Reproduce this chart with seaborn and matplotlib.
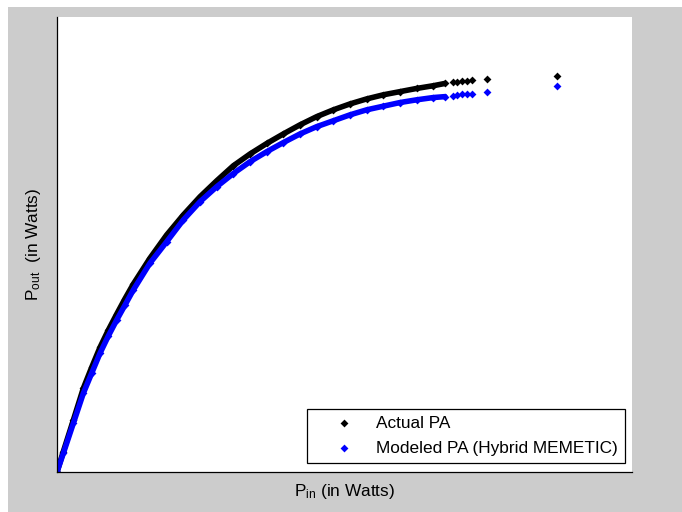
import matplotlib
matplotlib.use("Agg")
import matplotlib.pyplot as plt
import seaborn as sns
import pandas as pd
from matplotlib.patches import Rectangle

# ---- data (normalized units) ----
pin_dense = [0.0, 0.011, 0.0284, 0.0458, 0.0603, 0.0748, 0.0893, 0.1038, 0.1183,
             0.1327, 0.1617, 0.1907,
             0.2197, 0.2487, 0.2777, 0.3066, 0.3357, 0.3647, 0.3936, 0.4226,
             0.4516, 0.4806, 0.5096, 0.5386, 0.5675, 0.5965, 0.6255, 0.6545, 0.6748]
actual_dense = [0.0, 0.045, 0.114, 0.184, 0.230, 0.274, 0.312, 0.347, 0.381,
                0.413, 0.470, 0.521,
                0.565, 0.605, 0.640, 0.673, 0.699, 0.722, 0.743, 0.763,
                0.781, 0.796, 0.809, 0.820, 0.829, 0.836, 0.843, 0.849, 0.854]
model_dense = [0.0, 0.041, 0.107, 0.173, 0.217, 0.261, 0.299, 0.334, 0.367,
               0.400, 0.459, 0.506,
               0.554, 0.594, 0.627, 0.656, 0.682, 0.704, 0.724, 0.743,
               0.759, 0.772, 0.785, 0.796, 0.804, 0.812, 0.818, 0.823, 0.825]

pin_tail = [0.689, 0.696, 0.704, 0.713, 0.722, 0.748, 0.870]
actual_tail = [0.857, 0.858, 0.859, 0.860, 0.862, 0.864, 0.870]
model_tail = [0.827, 0.829, 0.830, 0.831, 0.831, 0.835, 0.849]

series_names = ["Actual PA", "Modeled PA (Hybrid MEMETIC)"]
series_colors = ["black", "blue"]
x_label = "P$_{in}$ (in Watts)"
y_label = "P$_{out}$  (in Watts)"

sns.set_theme(style="white")
plt.rcParams["font.family"] = ["Liberation Sans", "DejaVu Sans"]
plt.rcParams["mathtext.default"] = "regular"

fig = plt.figure(figsize=(6.82, 5.12), dpi=100, facecolor="white")
fig.patches.append(Rectangle((8 / 682, 0), 1 - 8 / 682, 1 - 7 / 512,
                             transform=fig.transFigure, facecolor="#cccccc",
                             edgecolor="none", zorder=-1))
ax = fig.add_axes([57 / 682, 40 / 512, 575 / 682, 455 / 512])
ax.set_facecolor("white")

dense_sets = [actual_dense, model_dense]
tail_sets = [actual_tail, model_tail]
for name, color, yd, yt in zip(series_names, series_colors, dense_sets, tail_sets):
    sns.lineplot(x=pin_dense, y=yd, color=color, linewidth=4.0, ax=ax,
                 estimator=None, sort=False, legend=False)
    df = pd.DataFrame({"pin": pin_dense + pin_tail, "pout": yd + yt})
    sns.scatterplot(data=df, x="pin", y="pout", color=color, marker="D", s=16,
                    linewidth=0, ax=ax, label=name)

ax.set_xlim(0, 1)
ax.set_ylim(0, 1)
ax.set_xticks([])
ax.set_yticks([])
for s in ["top", "right"]:
    ax.spines[s].set_visible(False)
for s in ["left", "bottom"]:
    ax.spines[s].set_color("black")
    ax.spines[s].set_linewidth(0.9)

ax.set_xlabel(x_label, fontsize=12.4, color="black", labelpad=7)
ax.set_ylabel(y_label, fontsize=12.4, color="black", labelpad=10)

leg = ax.legend(loc="lower right", bbox_to_anchor=(0.987, 0.02), borderaxespad=0,
                frameon=True, fancybox=False, edgecolor="black", framealpha=1,
                fontsize=12.4, handlelength=3.5, handletextpad=0.08, borderpad=0.4,
                labelspacing=0.6)
leg.get_frame().set_linewidth(0.9)
for t in leg.get_texts():
    t.set_color("black")

fig.savefig("out.png", dpi=100, facecolor=fig.get_facecolor())
